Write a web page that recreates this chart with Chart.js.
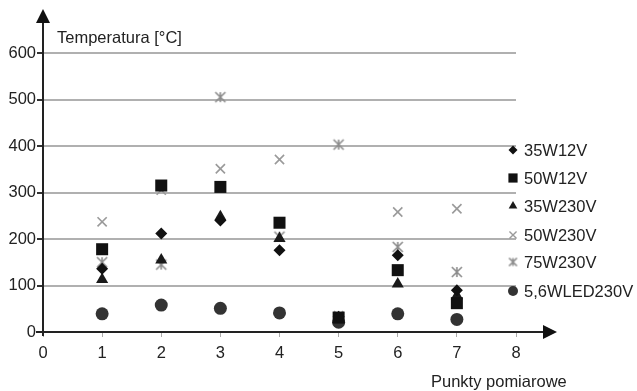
<!DOCTYPE html>
<html>
<head>
<meta charset="utf-8">
<script src="https://cdn.jsdelivr.net/npm/chart.js@4.4.0/dist/chart.umd.min.js"></script>
<style>
  html, body { margin: 0; padding: 0; background: #fff; }
</style>
</head>
<body>
<canvas id="wykres" width="637" height="391"></canvas>
<script>
// ---- dane ----
const punkty = [1, 2, 3, 4, 5, 6, 7];
const s35W12V = [136, 212, 240, 176, 33, 165, 90];
const s50W12V = [178, 315, 312, 235, 31, 133, 62];
const s35W230V = [113, 155, 248, 201, 28, 103, 78];
const s50W230V = [237, 305, 351, 371, 35, 258, 265];
const s75W230V = [150, 145, 505, 205, 403, 183, 129];
const s56WLED230V = [39, 58, 51, 41, 21, 39, 27];
const xTicks = [0, 1, 2, 3, 4, 5, 6, 7, 8];
const yTicks = [0, 100, 200, 300, 400, 500, 600];

const FONT = 'Liberation Sans, Arial, sans-serif';
const FSIZE = 16.5;

function toPoints(vals) {
  return vals.map((v, i) => ({ x: punkty[i], y: v }));
}

// gwiazdka: krzyzyk + pionowa kreska (75W230V)
function makeAsterisk(size, color) {
  const c = document.createElement('canvas');
  c.width = size; c.height = size;
  const g = c.getContext('2d');
  const m = size / 2, d = size * 0.36;
  g.strokeStyle = color;
  g.lineWidth = 1.6;
  g.beginPath();
  g.moveTo(m - d, m - d); g.lineTo(m + d, m + d);
  g.moveTo(m + d, m - d); g.lineTo(m - d, m + d);
  g.moveTo(m, m - d); g.lineTo(m, m + d);
  g.stroke();
  return c;
}
const asteriskBig = makeAsterisk(14, '#8c8c8c');
const asteriskSmall = makeAsterisk(11, '#8c8c8c');

const serie = [
  { label: '35W12V', data: s35W12V, style: 'rectRot', r: 6, color: '#111', fill: true, lr: 4.5 },
  { label: '50W12V', data: s50W12V, style: 'rect', r: 8.5, color: '#111', fill: true, lr: 6.5 },
  { label: '35W230V', data: s35W230V, style: 'triangle', r: 7, color: '#1a1a1a', fill: true, lr: 5 },
  { label: '50W230V', data: s50W230V, style: 'crossRot', r: 6.5, color: '#9a9a9a', fill: false, lr: 5 },
  { label: '75W230V', data: s75W230V, style: asteriskBig, r: 7, color: '#8c8c8c', fill: false, lr: 5, legendStyle: asteriskSmall },
  { label: '5,6WLED230V', data: s56WLED230V, style: 'circle', r: 6.5, color: '#333', fill: true, lr: 5 }
];

const datasets = serie.map(s => ({
  label: s.label,
  data: toPoints(s.data),
  pointStyle: s.style,
  pointRadius: s.r,
  pointHoverRadius: s.r,
  backgroundColor: s.fill ? s.color : 'transparent',
  borderColor: s.color,
  borderWidth: s.fill ? 0 : 1.6,
  showLine: false
}));

// ---- osie ze strzalkami, opisy i legenda ----
const ozdoby = {
  id: 'ozdoby',
  afterDraw(chart) {
    const ctx = chart.ctx;
    const x0 = chart.scales.x.getPixelForValue(0);
    const y0 = chart.scales.y.getPixelForValue(0);
    ctx.save();
    ctx.strokeStyle = '#222';
    ctx.fillStyle = '#111';
    ctx.lineWidth = 2;
    // os Y
    ctx.beginPath();
    ctx.moveTo(x0, y0 + 4);
    ctx.lineTo(x0, 20);
    ctx.stroke();
    ctx.beginPath();
    ctx.moveTo(x0, 9); ctx.lineTo(x0 - 7, 23); ctx.lineTo(x0 + 7, 23);
    ctx.closePath(); ctx.fill();
    // os X
    ctx.beginPath();
    ctx.moveTo(x0 - 7, y0);
    ctx.lineTo(548, y0);
    ctx.stroke();
    ctx.beginPath();
    ctx.moveTo(557, y0); ctx.lineTo(543, y0 - 7); ctx.lineTo(543, y0 + 7);
    ctx.closePath(); ctx.fill();

    // opisy osi
    ctx.font = FSIZE + 'px ' + FONT;
    ctx.fillStyle = '#222';
    ctx.textBaseline = 'middle';
    ctx.textAlign = 'left';
    ctx.fillText('Temperatura [°C]', 57, 38);
    ctx.fillText('Punkty pomiarowe', 431, 382);

    // legenda
    const rows = [150, 178, 206, 235, 262, 291];
    serie.forEach((s, i) => {
      const y = rows[i];
      ctx.fillStyle = s.fill ? s.color : 'transparent';
      ctx.strokeStyle = s.color;
      ctx.lineWidth = s.fill ? 0 : 1.4;
      Chart.helpers.drawPoint(ctx, {
        pointStyle: s.legendStyle || s.style,
        radius: s.lr,
        borderWidth: s.fill ? 0 : 1.4,
        rotation: 0
      }, 513, y);
      ctx.fillStyle = '#222';
      ctx.font = FSIZE + 'px ' + FONT;
      ctx.textAlign = 'left';
      ctx.textBaseline = 'middle';
      ctx.fillText(s.label, 524, y + 1);
    });
    ctx.restore();
  }
};

new Chart(document.getElementById('wykres'), {
  type: 'scatter',
  data: { datasets: datasets },
  options: {
    responsive: false,
    animation: false,
    devicePixelRatio: 1,
    layout: { padding: { left: 0, right: 121, top: 53, bottom: 0 } },
    plugins: {
      legend: { display: false },
      tooltip: { enabled: false }
    },
    scales: {
      x: {
        type: 'linear',
        min: 0,
        max: 8,
        afterBuildTicks: axis => { axis.ticks = xTicks.map(v => ({ value: v })); },
        afterFit: axis => { axis.height = 59; },
        border: { display: false },
        grid: { drawOnChartArea: false, drawTicks: true, tickLength: 5, tickColor: '#aaa', lineWidth: 1 },
        ticks: { color: '#222', font: { family: FONT, size: FSIZE }, padding: 7 }
      },
      y: {
        min: 0,
        max: 600,
        afterBuildTicks: axis => { axis.ticks = yTicks.map(v => ({ value: v })); },
        afterFit: axis => { axis.width = 43; },
        border: { display: false },
        grid: {
          color: ctx => ctx.tick && ctx.tick.value === 0 ? 'transparent' : '#b0b0b0',
          lineWidth: 2,
          drawTicks: true,
          tickLength: 6,
          tickColor: '#333'
        },
        ticks: { color: '#222', font: { family: FONT, size: FSIZE }, padding: 1 }
      }
    }
  },
  plugins: [ozdoby]
});
</script>
</body>
</html>
